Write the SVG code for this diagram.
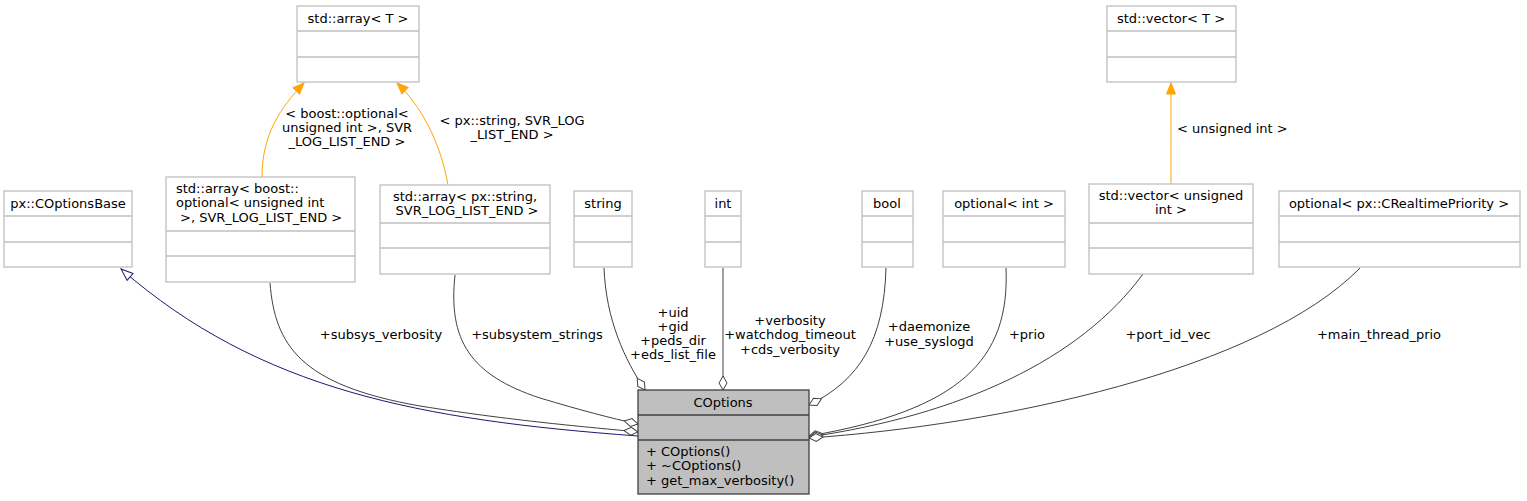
<svg xmlns="http://www.w3.org/2000/svg" width="1527" height="501" viewBox="0 0 1527 501">
<style>
text{font-family:"DejaVu Sans",sans-serif;font-size:13px;fill:#000}
.c{text-anchor:middle}
.box{fill:#fff;stroke:#bfbfbf;stroke-width:1.3}
.sep{stroke:#bfbfbf;stroke-width:1.3}
.main{fill:#bfbfbf;stroke:#404040;stroke-width:1.3}
.msep{stroke:#404040;stroke-width:1.3}
.e{fill:none;stroke:#404040;stroke-width:1}
.inh{fill:none;stroke:#191970;stroke-width:1}
.tpl{fill:none;stroke:#ffa500;stroke-width:1}
</style>
<defs>
<marker id="dia" markerUnits="userSpaceOnUse" markerWidth="20" markerHeight="12" refX="14" refY="5" orient="auto" overflow="visible">
<polygon points="0,5 7,1 14,5 7,9" fill="#fff" stroke="#404040" stroke-width="1"/>
</marker>
<marker id="tri" markerUnits="userSpaceOnUse" markerWidth="14" markerHeight="12" refX="12" refY="5" orient="auto" overflow="visible">
<polygon points="0,0.5 12,5 0,9.5" fill="#fff" stroke="#191970" stroke-width="1"/>
</marker>
<marker id="otri" markerUnits="userSpaceOnUse" markerWidth="14" markerHeight="12" refX="11" refY="5" orient="auto" overflow="visible">
<polygon points="0,0.5 11,5 0,9.5" fill="#ffa500" stroke="#ffa500" stroke-width="1"/>
</marker>
</defs>

<g id="connectors">
<path class="inh" d="M 638,436 C 420,420 260,390 121,269" marker-end="url(#tri)"/>
<path class="e" d="M 270,283 C 275,345 300,385 420,406 C 520,422 600,428 638,432" marker-end="url(#dia)"/>
<path class="e" d="M 455,275 C 448,340 470,375 540,398 C 580,410 610,418 638,424" marker-end="url(#dia)"/>
<path class="e" d="M 604,268 C 606,320 625,360 645,390" marker-end="url(#dia)"/>
<path class="e" d="M 723,268 L 723,390" marker-end="url(#dia)"/>
<path class="e" d="M 886,268 C 884,340 860,380 809,405" marker-end="url(#dia)"/>
<path class="e" d="M 1006,268 C 1010,360 960,410 809,436" marker-end="url(#dia)"/>
<path class="e" d="M 1143,274 C 1080,360 960,415 809,437" marker-end="url(#dia)"/>
<path class="e" d="M 1360,268 C 1260,370 1000,425 809,438" marker-end="url(#dia)"/>
<path class="tpl" d="M 262,177 C 262,135 280,108 304,83" marker-end="url(#otri)"/>
<path class="tpl" d="M 448,185 C 440,140 420,105 397,83" marker-end="url(#otri)"/>
<path class="tpl" d="M 1171,184 L 1171,83" marker-end="url(#otri)"/>
<text class="c" x="381" y="339">+subsys_verbosity</text>
<text class="c" x="537" y="339">+subsystem_strings</text>
<text class="c" x="673" y="317">+uid</text>
<text class="c" x="673" y="331">+gid</text>
<text class="c" x="673" y="345">+peds_dir</text>
<text class="c" x="673" y="359">+eds_list_file</text>
<text class="c" x="790" y="325">+verbosity</text>
<text class="c" x="790" y="339">+watchdog_timeout</text>
<text class="c" x="790" y="354">+cds_verbosity</text>
<text class="c" x="929" y="331">+daemonize</text>
<text class="c" x="929" y="346">+use_syslogd</text>
<text class="c" x="1027" y="339">+prio</text>
<text class="c" x="1168" y="339">+port_id_vec</text>
<text class="c" x="1379" y="339">+main_thread_prio</text>
<text class="c" x="347" y="118">&lt; boost::optional&lt;</text>
<text class="c" x="347" y="132">unsigned int &gt;, SVR</text>
<text class="c" x="347" y="146">_LOG_LIST_END &gt;</text>
<text class="c" x="512" y="125">&lt; px::string, SVR_LOG</text>
<text class="c" x="512" y="139">_LIST_END &gt;</text>
<text x="1177" y="133">&lt; unsigned int &gt;</text>
</g>

<g id="COptions">
<rect class="main" x="638" y="390" width="171" height="104"/>
<line class="msep" x1="638" y1="415" x2="809" y2="415"/>
<line class="msep" x1="638" y1="440" x2="809" y2="440"/>
<text class="c" x="723" y="407">COptions</text>
<text x="646" y="456">+ COptions()</text>
<text x="646" y="470">+ ~COptions()</text>
<text x="646" y="485">+ get_max_verbosity()</text>
</g>

<g id="COptionsBase">
<rect class="box" x="4" y="191" width="128" height="76"/>
<line class="sep" x1="4" y1="216" x2="132" y2="216"/>
<line class="sep" x1="4" y1="242" x2="132" y2="242"/>
<text class="c" x="68" y="208">px::COptionsBase</text>
</g>

<g id="array_optional">
<rect class="box" x="166" y="177" width="189" height="105"/>
<line class="sep" x1="166" y1="231" x2="355" y2="231"/>
<line class="sep" x1="166" y1="256" x2="355" y2="256"/>
<text x="176" y="193">std::array&lt; boost::</text>
<text x="176" y="207">optional&lt; unsigned int</text>
<text x="180" y="222">&gt;, SVR_LOG_LIST_END &gt;</text>
</g>

<g id="array_string">
<rect class="box" x="380" y="185" width="170" height="89"/>
<line class="sep" x1="380" y1="223" x2="550" y2="223"/>
<line class="sep" x1="380" y1="248" x2="550" y2="248"/>
<text class="c" x="465" y="201">std::array&lt; px::string,</text>
<text class="c" x="467" y="215">SVR_LOG_LIST_END &gt;</text>
</g>

<g id="string">
<rect class="box" x="574" y="191" width="58" height="76"/>
<line class="sep" x1="574" y1="216" x2="632" y2="216"/>
<line class="sep" x1="574" y1="242" x2="632" y2="242"/>
<text class="c" x="603" y="208">string</text>
</g>

<g id="int">
<rect class="box" x="705" y="191" width="36" height="76"/>
<line class="sep" x1="705" y1="216" x2="741" y2="216"/>
<line class="sep" x1="705" y1="242" x2="741" y2="242"/>
<text class="c" x="723" y="208">int</text>
</g>

<g id="bool">
<rect class="box" x="862" y="191" width="51" height="76"/>
<line class="sep" x1="862" y1="216" x2="913" y2="216"/>
<line class="sep" x1="862" y1="242" x2="913" y2="242"/>
<text class="c" x="887" y="208">bool</text>
</g>

<g id="optional_int">
<rect class="box" x="943" y="191" width="122" height="76"/>
<line class="sep" x1="943" y1="216" x2="1065" y2="216"/>
<line class="sep" x1="943" y1="242" x2="1065" y2="242"/>
<text class="c" x="1004" y="208">optional&lt; int &gt;</text>
</g>

<g id="vector_uint">
<rect class="box" x="1089" y="184" width="164" height="90"/>
<line class="sep" x1="1089" y1="223" x2="1253" y2="223"/>
<line class="sep" x1="1089" y1="248" x2="1253" y2="248"/>
<text class="c" x="1171" y="200">std::vector&lt; unsigned</text>
<text class="c" x="1171" y="214">int &gt;</text>
</g>

<g id="optional_rt">
<rect class="box" x="1279" y="191" width="241" height="76"/>
<line class="sep" x1="1279" y1="216" x2="1520" y2="216"/>
<line class="sep" x1="1279" y1="242" x2="1520" y2="242"/>
<text class="c" x="1399" y="208">optional&lt; px::CRealtimePriority &gt;</text>
</g>

<g id="array_T">
<rect class="box" x="297" y="6" width="122" height="76"/>
<line class="sep" x1="297" y1="31" x2="419" y2="31"/>
<line class="sep" x1="297" y1="57" x2="419" y2="57"/>
<text class="c" x="358" y="23">std::array&lt; T &gt;</text>
</g>

<g id="vector_T">
<rect class="box" x="1107" y="6" width="129" height="76"/>
<line class="sep" x1="1107" y1="31" x2="1236" y2="31"/>
<line class="sep" x1="1107" y1="57" x2="1236" y2="57"/>
<text class="c" x="1171" y="23">std::vector&lt; T &gt;</text>
</g>
</svg>
